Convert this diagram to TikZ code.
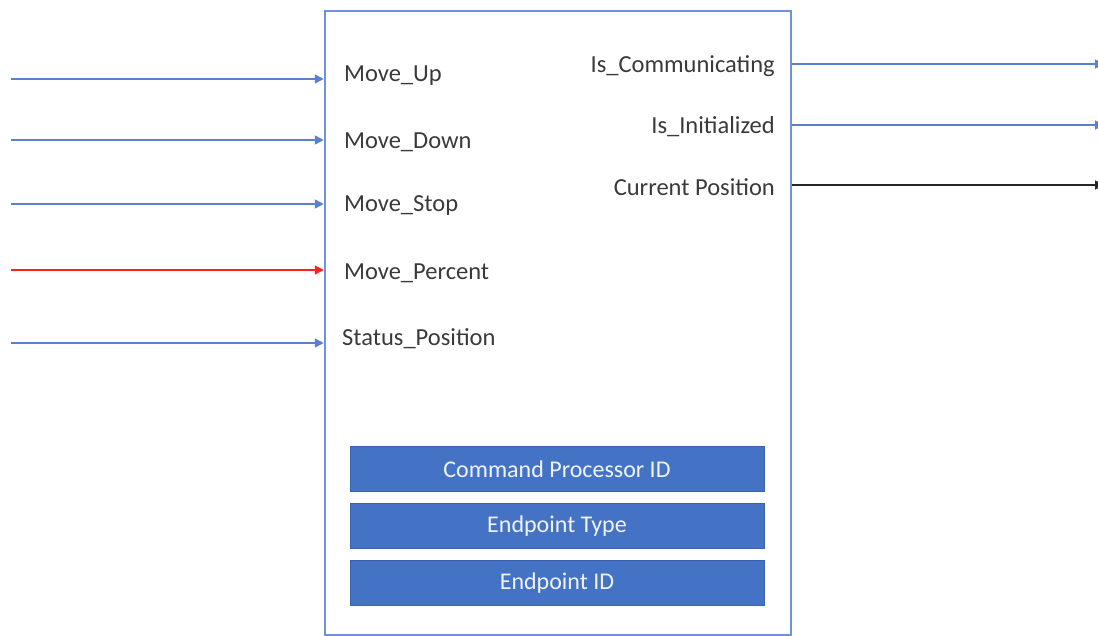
\documentclass[tikz,border=0pt]{standalone}
\usepackage{fontspec}
\setmainfont{Carlito}
\usetikzlibrary{arrows.meta}
\definecolor{frameblue}{HTML}{6F93D8}
\definecolor{linkblue}{HTML}{5B80D0}
\definecolor{fieldblue}{HTML}{4472C4}
\definecolor{fieldedge}{HTML}{3A62AD}
\definecolor{labelgray}{HTML}{3A3A3A}
\definecolor{sigred}{HTML}{FF2020}
\tikzset{
  lbl/.style={font=\fontsize{24.5}{29}\selectfont, text=labelgray, inner sep=0pt},
  field/.style={draw=fieldedge, line width=0.8pt, fill=fieldblue,
    minimum width=414pt, minimum height=45pt, inner sep=0pt,
    font=\fontsize{24}{29}\selectfont, text=white!92!fieldblue},
  conn/.style={line width=1.6pt, -{Triangle[length=9pt,width=9pt]}},
}
\begin{document}
\begin{tikzpicture}[x=1pt,y=-1pt]
\useasboundingbox (0,0) rectangle (1098,635);
\clip (0,0) rectangle (1098,635);

% main block
\node[draw=frameblue, line width=2.5pt, minimum width=466pt, minimum height=624pt,
      inner sep=0pt] (box) at (558,323) {};

% input labels
\node[lbl, anchor=west] (mu) at (344,75.5) {Move\_Up};
\node[lbl, anchor=west] (md) at (344,142) {Move\_Down};
\node[lbl, anchor=west] (ms) at (344,206) {Move\_Stop};
\node[lbl, anchor=west] (mp) at (344,273) {Move\_Percent};
\node[lbl, anchor=west] (sp) at (342,339) {Status\_Position};

% output labels
\node[lbl, anchor=east] (ic) at (775,66) {Is\_Communicating};
\node[lbl, anchor=east] (ii) at (775,127) {Is\_Initialized};
\node[lbl, anchor=east] (cp) at (775,187) {Current Position};

% identifier fields
\node[field] (cpid) at (557,469) {Command Processor ID};
\node[field] (ept) at (557,526) {Endpoint Type};
\node[field] (epid) at (557,583) {Endpoint ID};

% input signal sources
\coordinate (i1) at (11,79);
\coordinate (i2) at (11,140);
\coordinate (i3) at (11,204);
\coordinate (i4) at (11,270);
\coordinate (i5) at (11,343);

% output signal sinks
\coordinate (o1) at (1104,64);
\coordinate (o2) at (1104,125);
\coordinate (o3) at (1104,185);

% input connectors
\draw[conn, linkblue] (i1) -- (box.west |- i1);
\draw[conn, linkblue] (i2) -- (box.west |- i2);
\draw[conn, linkblue] (i3) -- (box.west |- i3);
\draw[conn, sigred, line width=1.3pt] (i4) -- (box.west |- i4);
\draw[conn, linkblue] (i5) -- (box.west |- i5);

% output connectors
\draw[conn, linkblue] (box.east |- o1) -- (o1);
\draw[conn, linkblue] (box.east |- o2) -- (o2);
\draw[conn, black!85, line width=1.4pt] (box.east |- o3) -- (o3);
\end{tikzpicture}
\end{document}
